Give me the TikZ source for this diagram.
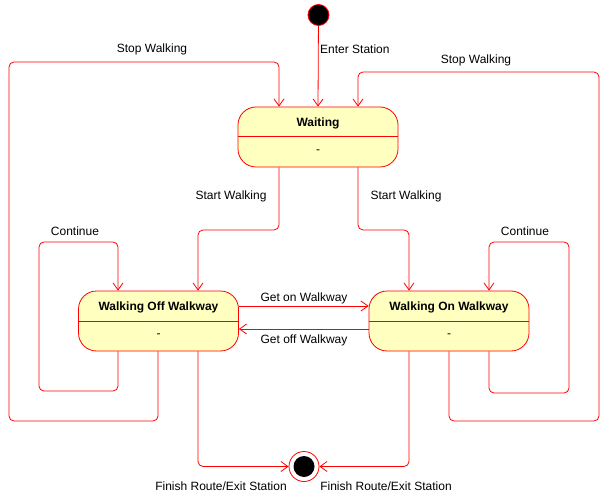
\documentclass[tikz,border=0pt]{standalone}
\usepackage{fontspec}
\setmainfont{Liberation Sans}
\usetikzlibrary{arrows.meta,calc}
\definecolor{strokered}{HTML}{FF0000}
\definecolor{statefill}{HTML}{FFFFC0}
\begin{document}
\begin{tikzpicture}[x=1pt,y=-1pt,
  every node/.style={font=\fontsize{12}{14}\selectfont, inner sep=0pt},
  statebox/.style={draw=strokered, fill=statefill, rounded corners=18pt, minimum width=160pt, minimum height=60pt, line width=0.8pt},
  divider/.style={draw=strokered, line width=0.8pt},
  tr/.style={draw=strokered, line width=0.8pt, rounded corners=5pt, -{Straight Barb[length=7pt,width=10pt,line width=0.8pt]}},
  lbl/.style={text=black}]
\useasboundingbox (0,0) rectangle (610,497);
% initial / final
\node[circle, fill=black, draw=strokered, line width=0.8pt, minimum size=21pt] (init) at (318.5,15) {};
\node[circle, draw=strokered, fill=white, line width=0.8pt, minimum size=30pt] (fin) at (304,466.5) {};
\node[circle, fill=black, minimum size=21pt] (fincore) at (304,466.5) {};
% states
\node[statebox] (wait) at (318,137) {};
\node[statebox] (off) at (158.5,321) {};
\node[statebox] (on) at (449,321) {};
\draw[divider] (wait.west |- 0,136) -- (wait.east |- 0,136);
\draw[divider] (off.west |- 0,321) -- (off.east |- 0,321);
\draw[divider] (on.west |- 0,321) -- (on.east |- 0,321);
\node[font=\fontsize{12}{14}\selectfont\bfseries] (waitname) at (318,123.5) {Waiting};
\node (waitact) at (318,152) {-};
\node[font=\fontsize{12}{14}\selectfont\bfseries] (offname) at (158.5,307.5) {Walking Off Walkway};
\node (offact) at (158.5,336) {-};
\node[font=\fontsize{12}{14}\selectfont\bfseries] (onname) at (449,307.5) {Walking On Walkway};
\node (onact) at (449,336) {-};
% transitions
\draw[tr] (init) -- (wait.north);
\draw[tr] ([xshift=-0.5pt]off.south) -- (158,421) -- (9,421) -- (9,62) -- (279,62) -- ([xshift=-39pt]wait.north);
\draw[tr] (on.south) -- (449,421) -- (599,421) -- (599,72) -- (358,72) -- ([xshift=40pt]wait.north);
\draw[tr] ([xshift=-39pt]wait.south) -- (279,230) -- (198,230) -- ([xshift=39.5pt]off.north);
\draw[tr] ([xshift=40pt]wait.south) -- (358,230) -- (409,230) -- ([xshift=-40pt]on.north);
\draw[tr] ([xshift=-40.5pt]off.south) -- (118,391) -- (39,391) -- (39,242) -- (118,242) -- ([xshift=-40.5pt]off.north);
\draw[tr] ([xshift=40pt]on.south) -- (489,393) -- (569,393) -- (569,242) -- (489,242) -- ([xshift=40pt]on.north);
\draw[tr] (off.east |- 0,306) -- (on.west |- 0,306);
\draw[tr] (on.west |- 0,329) -- (off.east |- 0,329);
\draw[tr] ([xshift=39.5pt]off.south) -- (198,466.5) -- (fin.west);
\draw[tr] ([xshift=-40pt]on.south) -- (409,466.5) -- (fin.east);
% labels
\node[lbl, anchor=west] (l1) at (320,49) {Enter Station};
\node[lbl] (l2) at (152,49) {Stop Walking};
\node[lbl] (l3) at (476,60) {Stop Walking};
\node[lbl] (l4) at (231,196) {Start Walking};
\node[lbl] (l5) at (406,196) {Start Walking};
\node[lbl] (l6) at (75,231) {Continue};
\node[lbl] (l7) at (525,231) {Continue};
\node[lbl] (l8) at (304,298) {Get on Walkway};
\node[lbl] (l9) at (304,340) {Get off Walkway};
\node[lbl] (l10) at (221,486) {Finish Route/Exit Station};
\node[lbl] (l11) at (386,486) {Finish Route/Exit Station};
\end{tikzpicture}
\end{document}
